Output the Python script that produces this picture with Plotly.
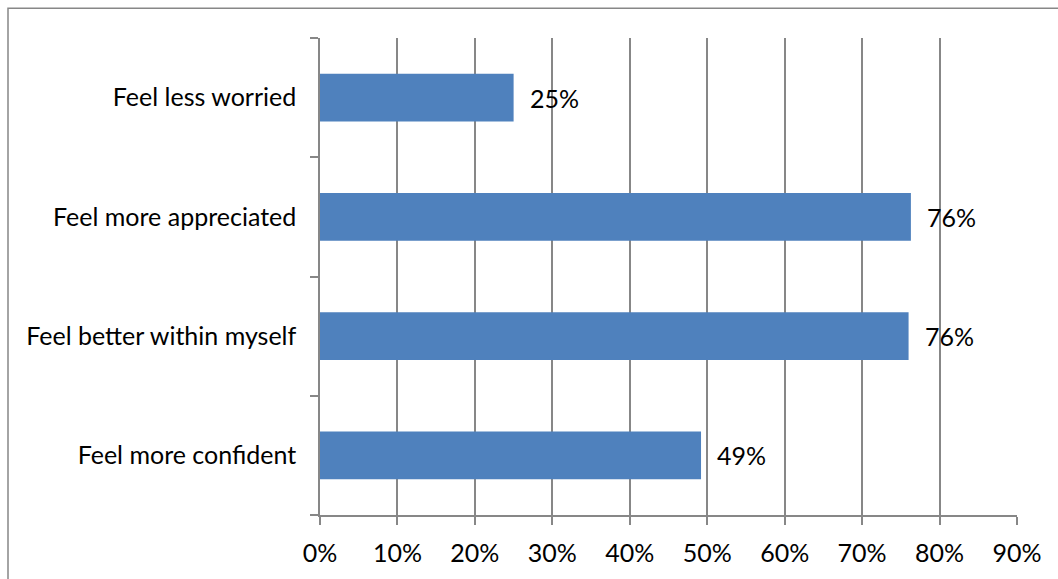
import plotly.graph_objects as go

categories = ["Feel more confident", "Feel better within myself", "Feel more appreciated", "Feel less worried"]
values = [49.2, 76.0, 76.3, 25.0]
labels = ["49%", "76%", "76%", "25%"]
x_ticks = [0, 10, 20, 30, 40, 50, 60, 70, 80, 90]
x_tick_text = ["0%", "10%", "20%", "30%", "40%", "50%", "60%", "70%", "80%", "90%"]

W, H = 1058, 579
L, R, T, B = 320, 41, 38, 62
FONT = "Lato"
FS = 25
GRID = "#878787"

fig = go.Figure()
fig.add_trace(go.Bar(
    y=categories, x=values, orientation="h",
    marker=dict(color="#4F81BD", line=dict(width=0)),
    width=0.4, hoverinfo="skip",
))
for c, v, t in zip(categories, values, labels):
    fig.add_annotation(x=v, y=c, text=t, showarrow=False, xanchor="left",
                       xshift=14, font=dict(family=FONT, size=FS, color="#000"))

pw = W - L - R
ph = H - T - B
fig.add_shape(type="rect", xref="paper", yref="paper",
              x0=(8 - L) / pw, x1=(1070 - L) / pw,
              y0=-(H + 20 - T - ph) / ph, y1=1 + (T - 8) / ph,
              line=dict(color=GRID, width=1.5), layer="below")

fig.update_layout(
    width=W, height=H,
    margin=dict(l=L, r=R, t=T, b=B, pad=0),
    paper_bgcolor="white", plot_bgcolor="white",
    showlegend=False, bargap=0.6,
    font=dict(family=FONT, size=FS, color="#000"),
    xaxis=dict(range=[0, 90], tickvals=x_ticks, ticktext=x_tick_text,
               showgrid=True, gridcolor=GRID, gridwidth=1.5,
               showline=True, linecolor=GRID, linewidth=1.5,
               ticks="outside", ticklen=8, tickcolor=GRID, tickwidth=1.5,
               ticklabelstandoff=7, zeroline=False, fixedrange=True),
    yaxis=dict(type="category", categoryorder="array", categoryarray=categories,
               showgrid=False, showline=True, linecolor=GRID, linewidth=1.5,
               ticks="outside", ticklen=8, tickcolor=GRID, tickwidth=1.5,
               tickson="boundaries", ticklabelstandoff=17,
               zeroline=False, fixedrange=True),
)
fig.write_html("out.html")
